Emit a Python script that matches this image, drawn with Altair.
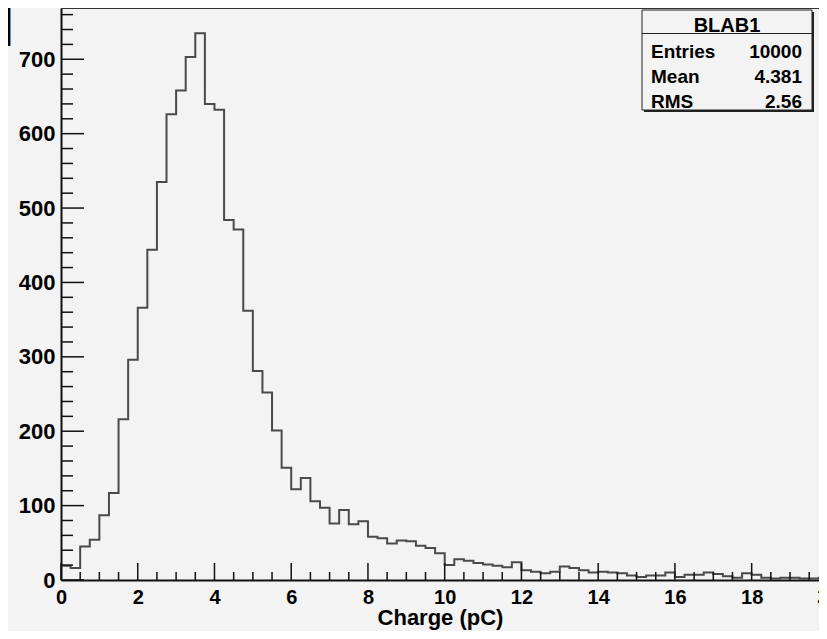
import altair as alt
import pandas as pd

# ---- data ----
bin_width = 0.25
counts = [19, 16, 45, 54, 87, 117, 216, 296, 366, 444,
          535, 626, 658, 703, 735, 640, 632, 484, 471, 362,
          281, 252, 201, 151, 122, 137, 106, 97, 76, 94,
          75, 79, 58, 56, 49, 53, 52, 46, 43, 36,
          20, 28, 26, 23, 21, 19, 17, 24, 13, 11,
          9, 11, 18, 16, 13, 10, 11, 10, 9, 6,
          4, 6, 6, 10, 4, 7, 7, 10, 8, 5,
          3, 9, 7, 3, 2, 3, 3, 2, 2, 3]
x_major = [0, 2, 4, 6, 8, 10, 12, 14, 16, 18]
x_minor = [v / 2 for v in range(0, 40) if v % 4 != 0]
y_major = [0, 100, 200, 300, 400, 500, 600, 700]
y_minor = [v for v in range(0, 780, 20) if v % 100 != 0]
stats_title = "BLAB1"
stats_labels = ["Entries", "Mean", "RMS"]
stats_values = ["10000", "4.381", "2.56"]
x_title = "Charge (pC)"
edge_label = "20"

# ---- layout ----
W, H = 758, 572
PX_PER_X = 38.37
PX_PER_Y = 0.7439
FONT = "Liberation Sans"
BG = "#f3f3f3"
TICK = "#111"

edges = [i * bin_width for i in range(len(counts) + 1)]
hist_df = pd.DataFrame({"edge": edges, "count": counts + [counts[-1]]})

xscale = alt.Scale(domain=[0, W / PX_PER_X], nice=False, zero=False)
yscale = alt.Scale(domain=[0, H / PX_PER_Y], nice=False, zero=False)

xaxis = alt.Axis(values=x_major, ticks=False, grid=False, domainColor="#111", domainWidth=2,
                 labelFont=FONT, labelFontWeight="bold", labelFontSize=20, labelColor="#000",
                 labelPadding=7, labelFlush=False, labelOverlap=False,
                 title=x_title, titleFont=FONT, titleFontWeight="bold", titleFontSize=22,
                 titleColor="#000", titleX=W / 2, titleY=44, titleBaseline="alphabetic",
                 titleAnchor="middle", titleAlign="center")
yaxis = alt.Axis(values=y_major, ticks=False, grid=False, domainColor="#111", domainWidth=2,
                 labelFont=FONT, labelFontWeight="bold", labelFontSize=22, labelColor="#000",
                 labelPadding=6, labelFlush=False, labelOverlap=False, title=None)

hist = alt.Chart(hist_df).mark_line(interpolate="step-after", color="#4a4a4a",
                                    strokeWidth=2, clip=True).encode(
    x=alt.X("edge:Q", scale=xscale, axis=xaxis, title=x_title),
    y=alt.Y("count:Q", scale=yscale, axis=yaxis, title=None),
)

# tick marks drawn inside the frame (ROOT style), lengths converted to data units
xt_rows = [{"tx": v, "ty0": 0.0, "ty1": 17 / PX_PER_Y} for v in x_major] + \
          [{"tx": v, "ty0": 0.0, "ty1": 8 / PX_PER_Y} for v in x_minor]
yt_rows = [{"tx0": 0.0, "tx1": 23 / PX_PER_X, "ty": v} for v in y_major] + \
          [{"tx0": 0.0, "tx1": 12 / PX_PER_X, "ty": v} for v in y_minor]

xticks = alt.Chart(pd.DataFrame(xt_rows)).mark_rule(color=TICK, strokeWidth=1.5).encode(
    x=alt.X("tx:Q", scale=xscale, axis=xaxis, title=x_title),
    y=alt.Y("ty0:Q", scale=yscale, axis=yaxis, title=None),
    y2="ty1:Q",
)
yticks = alt.Chart(pd.DataFrame(yt_rows)).mark_rule(color=TICK, strokeWidth=1.5).encode(
    x=alt.X("tx0:Q", scale=xscale, axis=xaxis, title=x_title),
    x2="tx1:Q",
    y=alt.Y("ty:Q", scale=yscale, axis=yaxis, title=None),
)

top_line = alt.Chart(pd.DataFrame({"a": [0]})).mark_rule(color="#333", strokeWidth=2).encode(
    x=alt.value(0), x2=alt.value(W), y=alt.value(0))

# stats box
bx0, bx1, by0, by1 = 581, 751, 2, 102
box_shadow = alt.Chart(pd.DataFrame({"a": [0]})).mark_rect(fill="#222").encode(
    x=alt.value(bx0 + 2), x2=alt.value(bx1 + 2), y=alt.value(by0 + 2), y2=alt.value(by1 + 2))
box = alt.Chart(pd.DataFrame({"a": [0]})).mark_rect(fill=BG, stroke="#222", strokeWidth=1).encode(
    x=alt.value(bx0), x2=alt.value(bx1), y=alt.value(by0), y2=alt.value(by1))
sep = alt.Chart(pd.DataFrame({"a": [0]})).mark_rule(color="#222", strokeWidth=1).encode(
    x=alt.value(bx0), x2=alt.value(bx1), y=alt.value(25.5))
title_txt = alt.Chart(pd.DataFrame({"s": [stats_title]})).mark_text(
    font=FONT, fontWeight="bold", fontSize=20, align="center", baseline="alphabetic", color="#000").encode(
    x=alt.value((bx0 + bx1) / 2), y=alt.value(23.5), text="s:N")

row_y = [49.5, 75, 100]
rows = []
for lab, val, yy in zip(stats_labels, stats_values, row_y):
    d = pd.DataFrame({"l": [lab], "v": [val]})
    rows.append(alt.Chart(d).mark_text(font=FONT, fontWeight="bold", fontSize=19, align="left",
                                       baseline="alphabetic", color="#000").encode(
        x=alt.value(bx0 + 9), y=alt.value(yy), text="l:N"))
    rows.append(alt.Chart(d).mark_text(font=FONT, fontWeight="bold", fontSize=19, align="right",
                                       baseline="alphabetic", color="#000").encode(
        x=alt.value(bx1 - 10), y=alt.value(yy), text="v:N"))

# partially visible "20" label at the cut right edge
edge_txt = alt.Chart(pd.DataFrame({"s": [edge_label]})).mark_text(
    font=FONT, fontWeight="bold", fontSize=20, align="center", baseline="top", color="#000").encode(
    x=alt.value(20 * PX_PER_X), y=alt.value(H + 7), text="s:N")

bracket = alt.Chart(pd.DataFrame({"s": ["]"]})).mark_text(
    font=FONT, fontWeight="bold", fontSize=40, align="right", baseline="alphabetic", color="#000").encode(
    x=alt.value(-48.5), y=alt.value(30), text="s:N")

chart = alt.layer(
    hist, xticks, yticks,
    top_line, box_shadow, box, sep, title_txt, *rows, edge_txt, bracket,
).properties(
    width=W, height=H,
    autosize=alt.AutoSizeParams(type="none"),
    padding={"left": 53, "top": 0, "right": 0, "bottom": 51},
    background=BG,
).configure_view(stroke=None)

chart.save("out.html", embed_options={"renderer": "svg", "actions": False})
